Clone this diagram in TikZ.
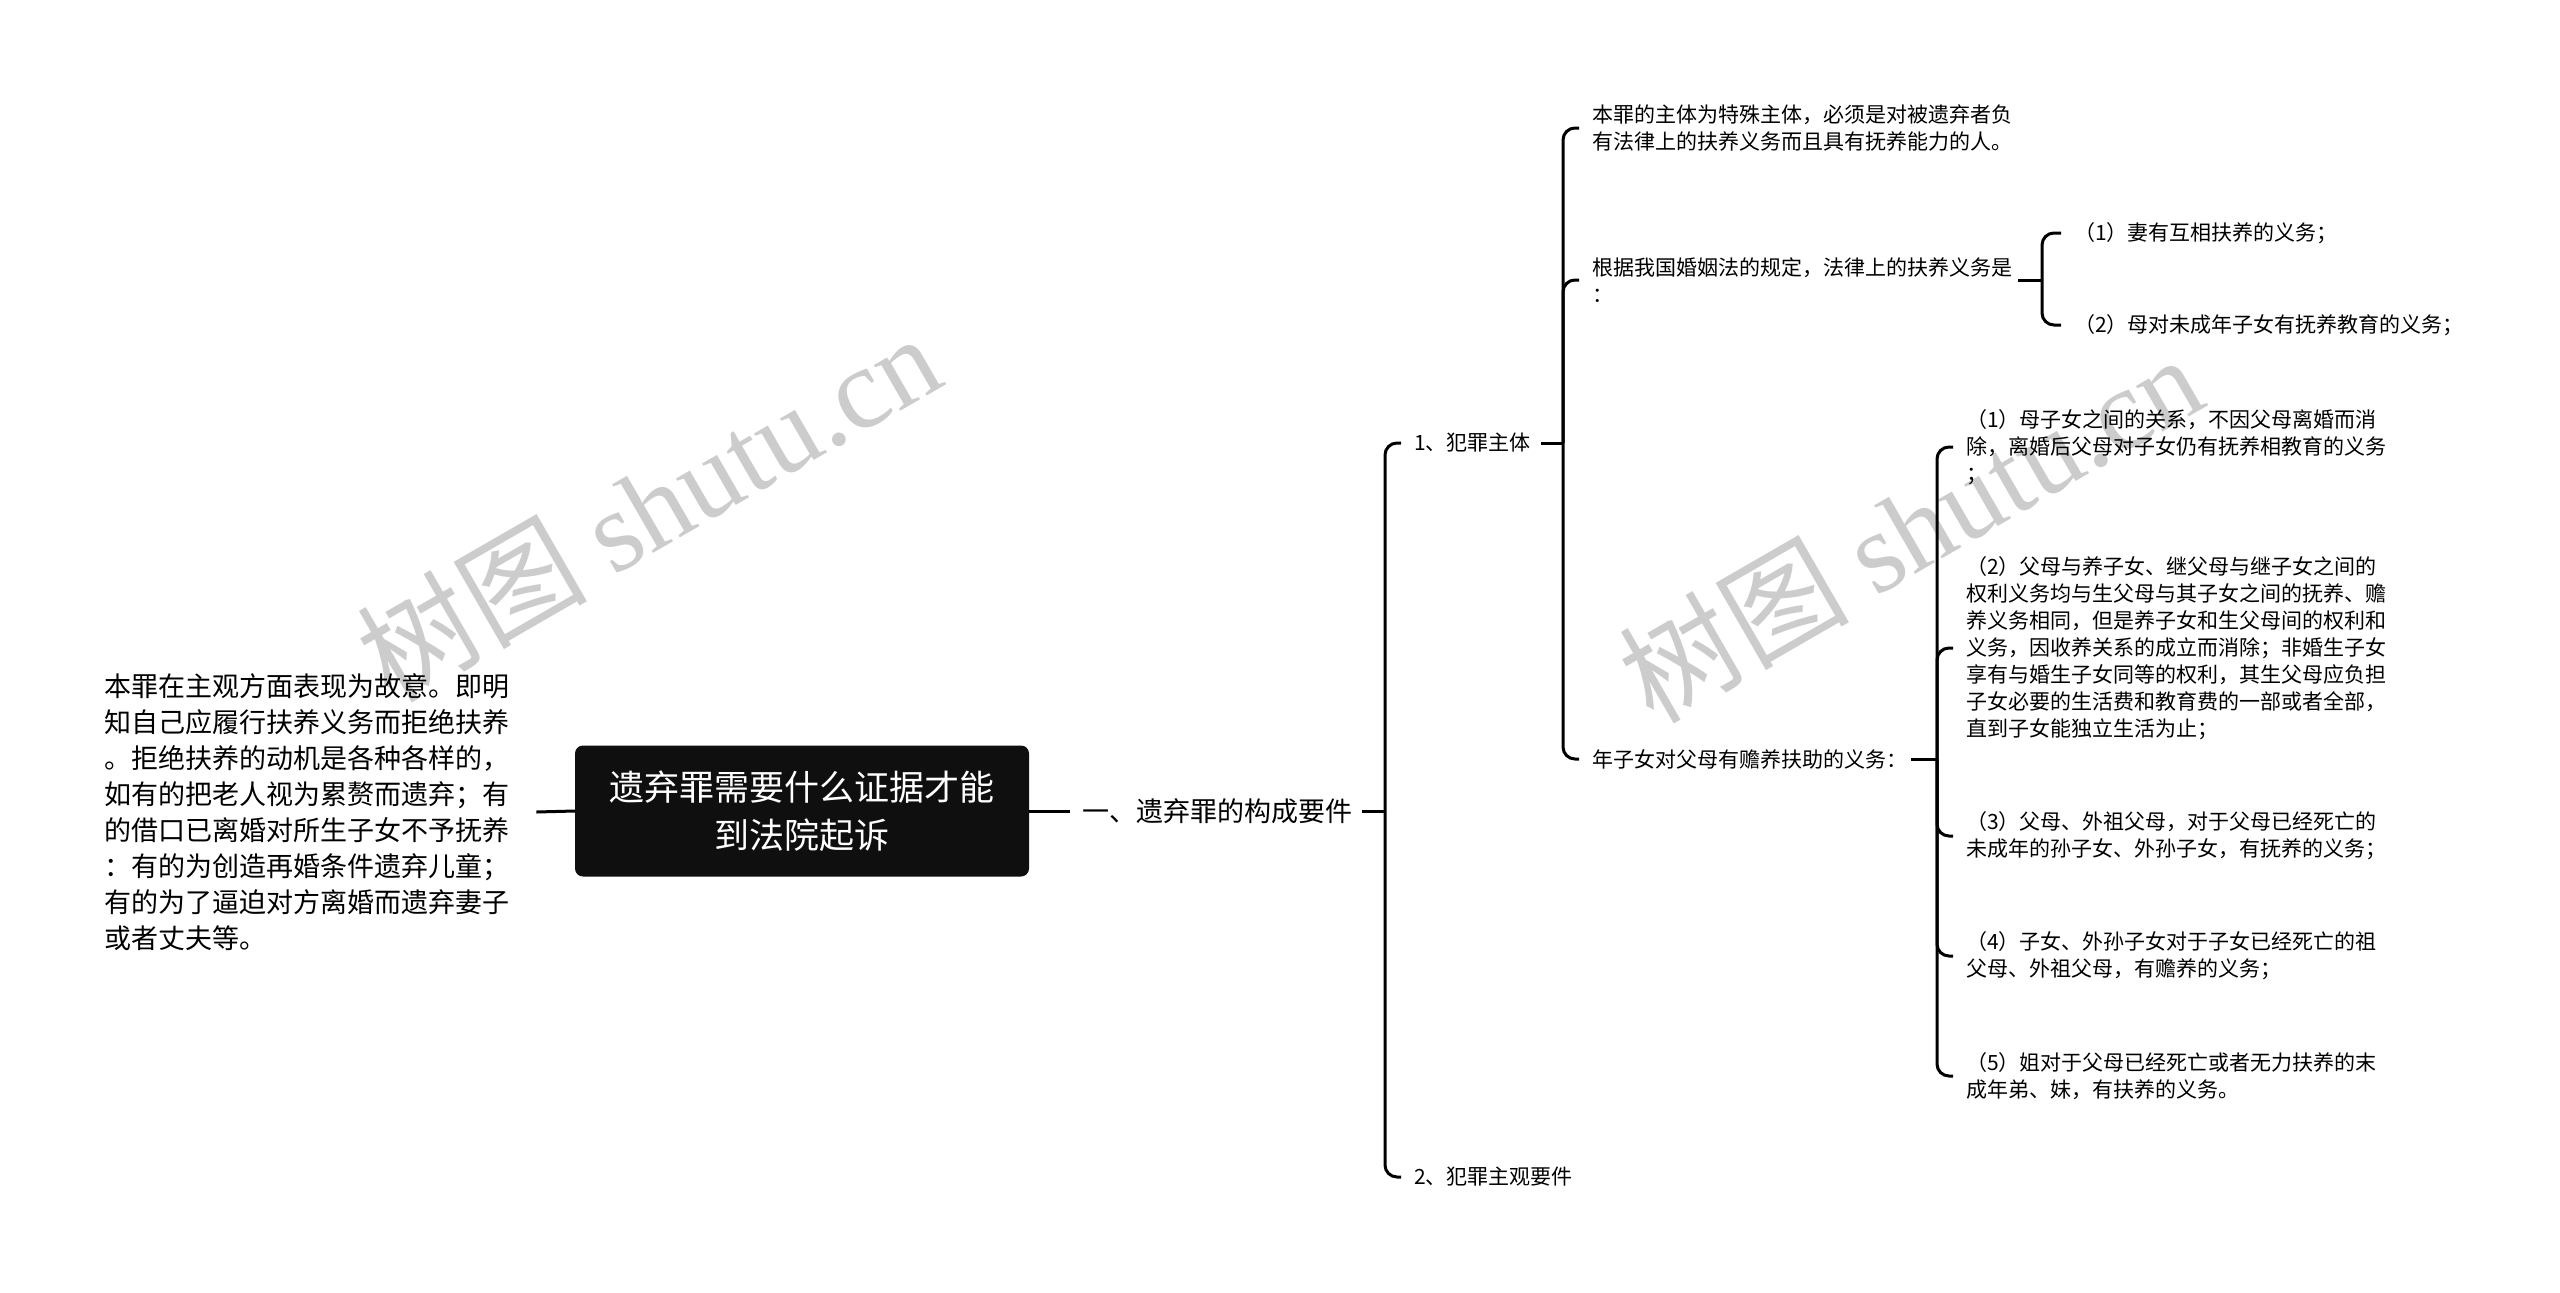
\documentclass[tikz,border=0pt]{standalone}
\usepackage{fontspec}
\setmainfont{Noto Sans CJK SC}
\newfontfamily\wmlat{Liberation Serif}
\newfontfamily\wmcjk{Noto Sans CJK SC}
\usetikzlibrary{calc}
\tikzset{
  conn/.style={line width=3pt, draw=black, rounded corners=12pt},
  link/.style={line width=3pt, draw=black},
  txt/.style={anchor=west, inner sep=0pt, align=left, font=\fontsize{21}{27}\selectfont},
  bigtxt/.style={anchor=west, inner sep=0pt, align=left, text width=403pt, font=\fontsize{27}{36}\selectfont},
  rootbox/.style={fill=black!94, text=white, rounded corners=8pt, minimum width=454pt,
    minimum height=131pt, align=center, inner sep=0pt, font=\fontsize{35}{48}\selectfont},
  wm/.style={text=black!20, inner sep=0pt, font=\fontsize{115}{125}\selectfont, rotate=30}
}
\begin{document}
\begin{tikzpicture}[x=1pt,y=-1pt]
\useasboundingbox (0,0) rectangle (2560,1293);
\fill[white] (0,0) rectangle (2560,1293);

% watermarks
\node[wm] (wm1) at (648,506) {{\wmcjk 树图} {\wmlat shutu.cn}};
\node[wm] (wm2) at (1910,527) {{\wmcjk 树图} {\wmlat shutu.cn}};

% root
\node[rootbox] (root) at (802,811) {遗弃罪需要什么证据才能\\到法院起诉};

% left text
\node[bigtxt] (lt) at (104,812) {本罪在主观方面表现为故意。即明\\知自己应履行扶养义务而拒绝扶养\\。拒绝扶养的动机是各种各样的，\\如有的把老人视为累赘而遗弃；有\\的借口已离婚对所生子女不予抚养\\：有的为创造再婚条件遗弃儿童；\\有的为了逼迫对方离婚而遗弃妻子\\或者丈夫等。};
\draw[link] (root.west) -- ([xshift=29pt]lt.east);

% level 1
\node[txt, font=\fontsize{27}{32}\selectfont] (l1) at (1082,811) {一、遗弃罪的构成要件};
\draw[link] (root.east) -- ([xshift=-12pt]l1.west);

% level 2
\node[txt] (s1) at (1414,443) {1、犯罪主体};
\node[txt] (s2) at (1414,1177) {2、犯罪主观要件};
\coordinate (b1) at (1385,811);
\draw[link] ([xshift=10pt]l1.east) -- (b1);
\draw[conn] (b1) |- ([xshift=-13pt]s1.west);
\draw[conn] (b1) |- ([xshift=-13pt]s2.west);

% level 3 under s1
\node[txt] (a) at (1592,128) {本罪的主体为特殊主体，必须是对被遗弃者负\\有法律上的扶养义务而且具有抚养能力的人。};
\node[txt] (b) at (1592,280) {根据我国婚姻法的规定，法律上的扶养义务是\\：};
\node[txt] (c) at (1592,759) {年子女对父母有赡养扶助的义务：};
\coordinate (b2) at (1563,443);
\draw[link] ([xshift=10pt]s1.east) -- (b2);
\draw[conn] (b2) |- ([xshift=-13pt]a.west);
\draw[conn] (b2) |- ([xshift=-13pt]b.west);
\draw[conn] (b2) |- ([xshift=-13pt]c.west);

% level 4 under b
\node[txt] (ba) at (2074,233) {（1）妻有互相扶养的义务；};
\node[txt] (bb) at (2074,325) {（2）母对未成年子女有抚养教育的义务；};
\coordinate (b3) at (2042,280);
\draw[link] ([xshift=6pt]b.east) -- (b3);
\draw[conn] (b3) |- ([xshift=-13pt]ba.west);
\draw[conn] (b3) |- ([xshift=-13pt]bb.west);

% level 4 under c
\node[txt] (c1) at (1966,447) {（1）母子女之间的关系，不因父母离婚而消\\除，离婚后父母对子女仍有抚养相教育的义务\\；};
\node[txt] (c2) at (1966,648) {（2）父母与养子女、继父母与继子女之间的\\权利义务均与生父母与其子女之间的抚养、赡\\养义务相同，但是养子女和生父母间的权利和\\义务，因收养关系的成立而消除；非婚生子女\\享有与婚生子女同等的权利，其生父母应负担\\子女必要的生活费和教育费的一部或者全部，\\直到子女能独立生活为止；};
\node[txt] (c3) at (1966,836) {（3）父母、外祖父母，对于父母已经死亡的\\未成年的孙子女、外孙子女，有抚养的义务；};
\node[txt] (c4) at (1966,956) {（4）子女、外孙子女对于子女已经死亡的祖\\父母、外祖父母，有赡养的义务；};
\node[txt] (c5) at (1966,1076) {（5）姐对于父母已经死亡或者无力扶养的末\\成年弟、妹，有扶养的义务。};
\coordinate (b4) at (1937,759);
\draw[link] ([xshift=4pt]c.east) -- (b4);
\draw[conn] (b4) |- ([xshift=-13pt]c1.west);
\draw[conn] (b4) |- ([xshift=-13pt]c2.west);
\draw[conn] (b4) |- ([xshift=-13pt]c3.west);
\draw[conn] (b4) |- ([xshift=-13pt]c4.west);
\draw[conn] (b4) |- ([xshift=-13pt]c5.west);
\end{tikzpicture}
\end{document}
